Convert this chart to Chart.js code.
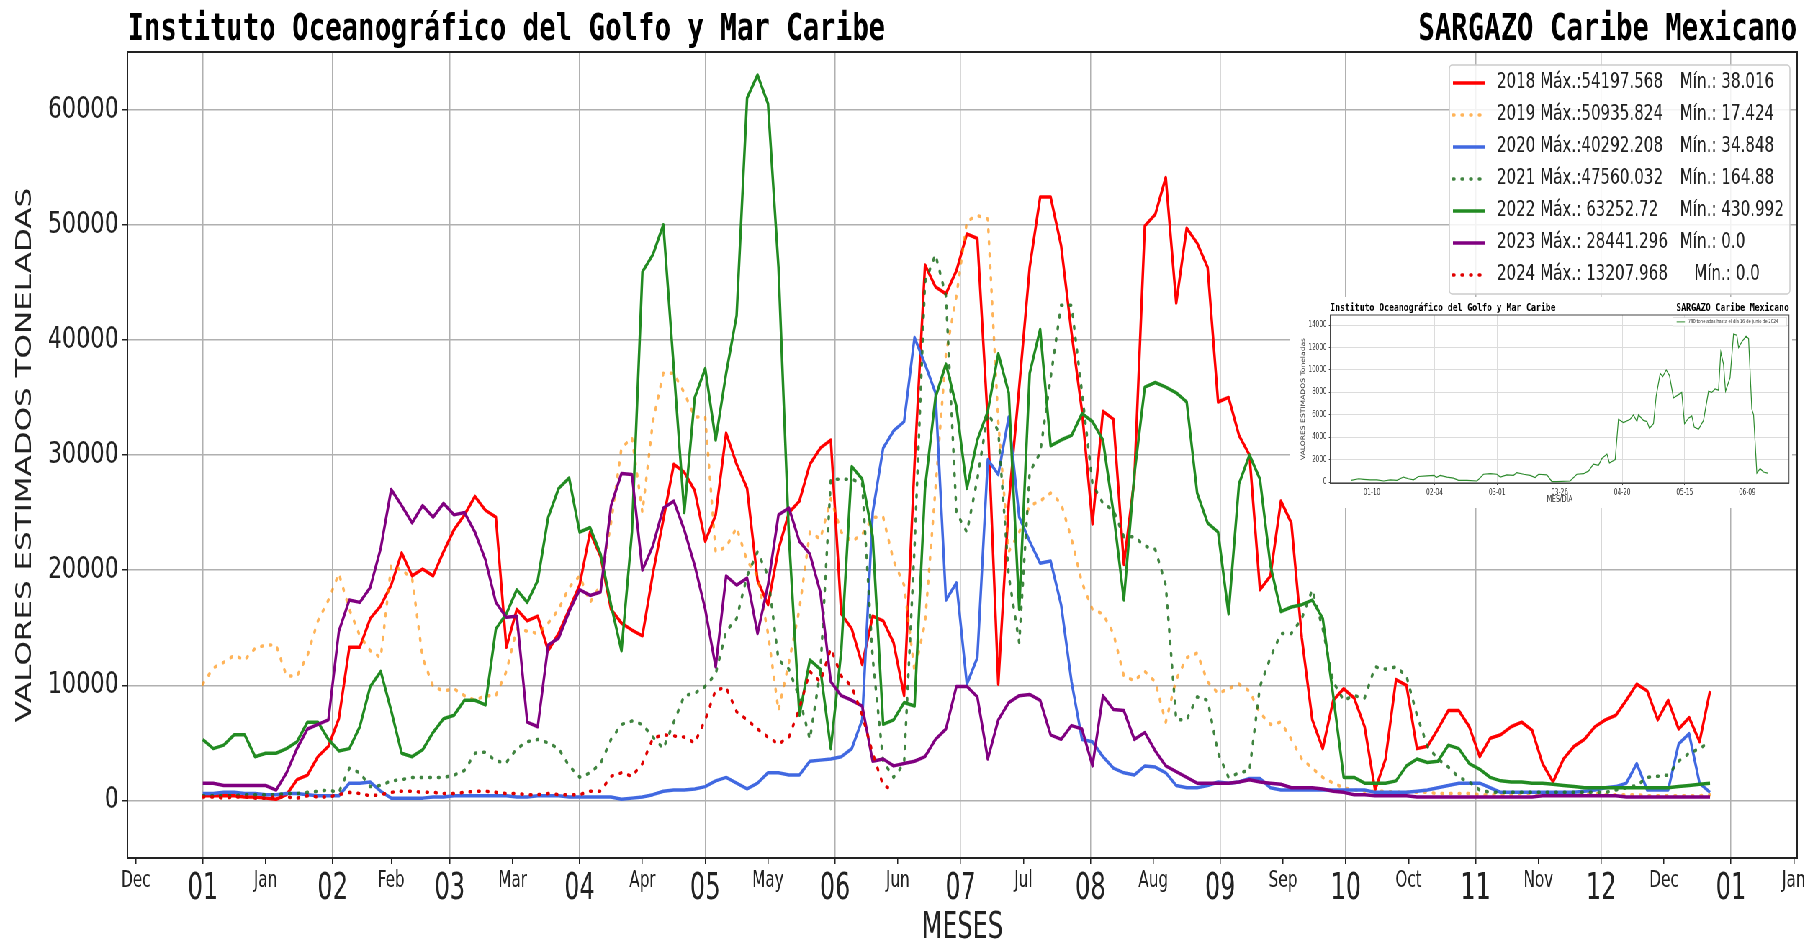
<!DOCTYPE html>
<html>
<head>
<meta charset="utf-8">
<title>SARGAZO Caribe Mexicano</title>
<script src="https://cdn.jsdelivr.net/npm/chart.js@4.4.1/dist/chart.umd.min.js"></script>
<style>
  html, body { margin: 0; padding: 0; background: #fff; overflow: hidden; width: 1813px; height: 942px; }
  /* the original picture is squeezed horizontally, so the chart is drawn wide and scaled */
  #stage { position: absolute; left: 0; top: 0; width: 2518px; height: 942px; transform: scaleX(0.72); transform-origin: 0 0; }
  #mainBox { position: absolute; left: 0; top: 0; width: 2518px; height: 942px; }
  #insetBox { position: absolute; left: 1792px; top: 297px; width: 697px; height: 211px; background: #fff; }
</style>
</head>
<body>
<div id="stage">
  <div id="mainBox"><canvas id="mainChart"></canvas></div>
  <div id="insetBox"><canvas id="insetChart"></canvas></div>
</div>
<script>
var titleLeft = "Instituto Oceanográfico del Golfo y Mar Caribe";
var titleRight = "SARGAZO Caribe Mexicano";

// day of year (0 = 1 de enero), one sample every 2.5 days
var days = [0,2.5,5,7.5,10,12.5,15,17.5,20,22.5,25,27.5,30,32.5,35,37.5,40,42.5,45,47.5,
  50,52.5,55,57.5,60,62.5,65,67.5,70,72.5,75,77.5,80,82.5,85,87.5,90,92.5,95,97.5,
  100,102.5,105,107.5,110,112.5,115,117.5,120,122.5,125,127.5,130,132.5,135,137.5,140,142.5,145,147.5,
  150,152.5,155,157.5,160,162.5,165,167.5,170,172.5,175,177.5,180,182.5,185,187.5,190,192.5,195,197.5,
  200,202.5,205,207.5,210,212.5,215,217.5,220,222.5,225,227.5,230,232.5,235,237.5,240,242.5,245,247.5,
  250,252.5,255,257.5,260,262.5,265,267.5,270,272.5,275,277.5,280,282.5,285,287.5,290,292.5,295,297.5,
  300,302.5,305,307.5,310,312.5,315,317.5,320,322.5,325,327.5,330,332.5,335,337.5,340,342.5,345,347.5,
  350,352.5,355,357.5,360];

var sargazo2018 = [400,400,400,400,300,300,200,100,500,1800,2200,3800,4700,7100,13300,13300,15800,16900,18700,21500,19500,20100,19500,21600,23500,24800,26400,25200,24600,13300,16600,15600,16000,13000,14500,16600,18700,
  23300,21200,16600,15400,14800,14300,19700,24400,29200,28500,26900,22500,24800,31900,29200,27100,19100,17000,21800,25000,26000,29200,30600,31300,
  16200,14900,11800,16000,15600,13700,9100,29200,46500,44600,44000,46000,49200,48800,32900,10100,25800,35900,46300,52400,52400,48200,40600,33800,
  24000,33800,33100,20500,27900,49900,50900,54100,43200,49700,48400,46300,34600,35000,31700,30000,18300,19500,26000,24100,14100,7000,4500,8700,9700,8900,
  6400,900,3600,10500,10000,4500,4700,6200,7800,7800,6400,3800,5400,5700,6400,6800,6100,3200,1600,3600,4700,5300,6400,7000,7400,8700,10100,9500,7000,8700,6200,7200,5100,9500];
var sargazo2019 = [10100,11500,12000,12600,12200,13200,13500,13500,10800,10800,12600,15600,17400,19700,16600,14300,13000,12400,20400,20000,19300,12400,9900,9500,9700,9100,8700,9100,9100,11200,14900,14700,14500,15400,16600,18500,19500,
  17200,18700,24100,30600,31500,25000,32900,37100,37100,35400,33300,33300,21600,22000,23700,20800,19500,14500,7800,12000,16600,23300,22700,26200,
  23300,22500,23100,24600,24600,20800,18700,11200,15400,27100,38800,43800,50300,50800,50500,32900,21600,23300,25600,26000,26700,25800,22700,18900,
  16600,16200,14500,10800,10400,11200,10300,6800,10500,12400,12800,10300,9300,9700,10100,9500,7600,6600,6800,5300,3600,2800,2000,1500,1100,900,
  800,800,800,700,700,700,700,600,600,600,600,500,500,500,500,600,600,500,500,500,500,600,600,500,500,500,500,400,400,400,400,400,400,500];
var sargazo2020 = [600,600,700,700,600,600,500,500,600,600,500,400,400,400,1500,1500,1600,800,200,200,200,200,300,300,400,400,400,400,400,400,300,300,400,400,400,300,300,
  300,300,300,100,200,300,500,800,900,900,1000,1200,1700,2000,1500,1000,1500,2400,2400,2200,2200,3400,3500,3600,
  3800,4500,7000,25000,30600,32100,32900,40200,37900,35400,17400,18900,10100,12400,29600,28300,33300,24600,22500,20600,20800,17000,10300,5300,
  5100,3800,2800,2400,2200,3000,2900,2400,1300,1100,1100,1300,1600,1500,1600,1900,1900,1100,900,900,900,900,900,900,900,900,
  900,700,700,700,700,800,900,1100,1300,1500,1500,1500,1100,700,700,700,700,700,700,700,700,800,900,1100,1200,1500,3200,900,900,900,4900,5800,1500,700];
var sargazo2021 = [400,400,400,400,500,500,500,500,600,600,700,800,900,700,2800,2400,1200,1300,1700,1800,2000,2000,2000,2000,2200,2600,4100,4200,3400,3300,4500,5100,5300,5000,4500,3000,2000,
  2400,3200,5300,6600,6900,6600,5500,4500,6800,9100,9300,9900,11000,14700,15800,19500,21600,19500,12200,11400,8900,5300,11200,27900,
  27900,27900,27500,12400,3400,2000,3200,22000,45000,47400,43800,25000,23300,27900,33600,32100,19500,13700,28500,30200,36700,43000,43000,35400,
  27500,25800,25200,22900,22900,22100,21800,18700,7000,7000,9000,8700,4100,2000,2400,2600,9900,12400,14500,14500,15800,18300,14900,10300,8700,9100,
  8900,11600,11400,11600,10800,7400,4700,3600,2900,2000,1600,900,700,700,700,700,700,700,700,700,700,700,700,700,900,1100,1300,2000,2100,2200,3400,4100,4500,5100];
var sargazo2022 = [5300,4500,4800,5700,5700,3800,4100,4100,4500,5100,6800,6800,5300,4300,4500,6400,9900,11200,7800,4100,3800,4400,5900,7100,7400,8700,8700,8300,14900,16200,18300,17200,19100,24600,27100,28000,23300,
  23700,21400,17000,13000,23300,45900,47400,50000,37500,25000,35000,37500,31300,37100,42100,61000,63000,60500,46300,22900,7400,12200,11400,4500,
  13000,29000,27900,22900,6600,7000,8500,8200,27100,35000,37900,34200,27100,31300,33800,38800,35400,16600,37100,40900,30800,31300,31700,33600,
  32900,31300,25000,17400,28300,35900,36300,35900,35400,34600,26700,24100,23300,16200,27500,30000,27900,20400,16400,16800,17000,17400,15800,9100,2000,2000,
  1500,1500,1500,1700,3000,3600,3300,3400,4800,4500,3200,2700,2000,1700,1600,1600,1500,1500,1400,1300,1200,1100,1100,1100,1100,1100,1100,1100,1100,1100,1200,1300,1400,1500];
var sargazo2023 = [1500,1500,1300,1300,1300,1300,1300,900,2400,4500,6200,6600,7000,14700,17400,17200,18500,21900,27000,25600,24100,25600,24600,25800,24800,25000,23300,20900,17200,15900,16000,6800,6400,13500,14100,16400,18300,
  17800,18100,25600,28400,28300,20000,22100,25400,26000,23500,20400,16600,11600,19500,18700,19300,14500,18700,24800,25400,22500,21400,18100,10300,
  9100,8700,8200,3400,3600,3000,3200,3400,3800,5300,6200,9900,9900,9000,3600,7000,8500,9100,9200,8700,5700,5300,6500,6200,
  3000,9100,7900,7800,5300,5900,4300,3000,2500,2000,1500,1500,1500,1500,1600,1800,1600,1500,1400,1100,1100,1100,1000,800,700,500,
  500,400,400,400,400,300,300,300,300,300,300,300,300,300,300,300,300,400,400,400,400,400,400,400,400,300,300,300,300,300,300,300,300,300];
var sargazo2024 = [300,300,200,300,300,200,200,300,300,200,400,300,300,500,700,600,400,500,700,800,800,700,700,600,600,700,800,800,700,600,600,500,500,600,500,500,500,
  800,800,2100,2400,2100,3200,5400,5700,5600,5500,5000,7000,9600,9800,7700,7000,6200,5500,4900,5500,8000,11200,10300,13200,
  10800,9900,7400,4100,1300,900];

var years = ['2018', '2019', '2020', '2021', '2022', '2023', '2024'];
var legendMax = ['2018 Máx.:54197.568', '2019 Máx.:50935.824', '2020 Máx.:40292.208', '2021 Máx.:47560.032',
  '2022 Máx.: 63252.72', '2023 Máx.: 28441.296', '2024 Máx.: 13207.968'];
var legendMin = ['Mín.: 38.016', 'Mín.: 17.424', 'Mín.: 34.848', 'Mín.: 164.88', 'Mín.: 430.992', 'Mín.: 0.0', '   Mín.: 0.0'];

var monthStartDays = [0, 31, 59, 90, 120, 151, 181, 212, 243, 273, 304, 334, 365];
var monthStartLabels = ['01', '02', '03', '04', '05', '06', '07', '08', '09', '10', '11', '12', '01'];
var midMonthDays = [-16, 15, 45, 74, 105, 135, 166, 196, 227, 258, 288, 319, 349, 380];
var midMonthLabels = ['Dec', 'Jan', 'Feb', 'Mar', 'Apr', 'May', 'Jun', 'Jul', 'Aug', 'Sep', 'Oct', 'Nov', 'Dec', 'Jan'];
var yTickValues = [0, 10000, 20000, 30000, 40000, 50000, 60000];

// inset: 2024 season (day of year, toneladas)
var insetDays = [0.7,3.7,5.7,8.3,11,13.7,16.3,19,21.6,23.6,25.6,27.6,31,33.9,34.7,36.3,39,41.6,43.6,47,51,53.6,56.3,58.9,60.3,62.9,65.6,66.9,69.6,72.2,74.2,75.6,78.9,80.9,82.9,88.2,90.9,93.6,95.6,97.5,99.5,100.9,102.9,103.9,106.2,107.5,109.5,112.2,113.5,114.9,115.5,117.5,118.9,119.9,121.5,122.6,124.2,125.2,126.6,127.9,129.5,131.5,132.8,133.9,135.5,136.8,137.8,139.5,141.5,143.5,144.8,146.1,147.5,148.4,149.5,150.3,152.1,153.5,154.8,155.5,156.8,158.5,159.5,160.8,161.5,162.8,164.1,165.5,167.1];
var insetValues = [150,300,250,200,200,100,200,150,450,300,200,500,550,600,400,600,450,350,150,150,100,700,750,700,450,650,600,850,700,600,400,700,650,50,50,100,700,750,1000,1600,1500,2100,2500,1700,2000,5600,5300,5600,6000,5400,6000,5500,5400,4800,5200,7700,9700,9400,10000,9500,7500,7800,8000,5200,5700,5900,4900,4700,5500,8100,8000,8300,8200,11600,10500,8100,9300,13200,13100,12000,12500,13000,12800,6500,6000,800,1200,900,800];
var insetTickDays = [9, 34, 59, 84, 109, 134, 159];
var insetTickLabels = ['01-10', '02-04', '03-01', '03-26', '04-20', '05-15', '06-09'];
var insetYTicks = [0, 2000, 4000, 6000, 8000, 10000, 12000, 14000];
var insetLegend = '780 toneladas hasta el día 16 de junio de 2024';

var seriesValues = [sargazo2018, sargazo2019, sargazo2020, sargazo2021, sargazo2022, sargazo2023, sargazo2024];
var seriesColors = ['#ff0000', 'rgba(255,140,0,0.65)', '#4169e1', 'rgba(30,110,30,0.85)', '#228b22', '#800080', '#e00000'];
var seriesDotted = [false, true, false, true, false, false, true];
var dotDash = [2, 10];

var tickFamily = "'Liberation Sans Narrow', 'DejaVu Sans Condensed', 'DejaVu Sans', sans-serif";

function toPoints(xs, values) {
  var pts = [];
  for (var i = 0; i < values.length; i++) pts.push({ x: xs[i], y: values[i] });
  return pts;
}

var datasets = years.map(function(year, i) {
  return {
    label: year,
    data: toPoints(days, seriesValues[i]),
    borderColor: seriesColors[i],
    borderWidth: 3.5,
    borderDash: seriesDotted[i] ? dotDash : [],
    borderCapStyle: seriesDotted[i] ? 'round' : 'butt',
    borderJoinStyle: 'round',
    pointRadius: 0,
    tension: 0,
    order: years.length - i // later years drawn on top
  };
});

var xLabelMap = {};
monthStartDays.forEach(function(d, i) { xLabelMap[d] = monthStartLabels[i]; });
midMonthDays.forEach(function(d, i) { xLabelMap[d] = midMonthLabels[i]; });

var mainDecor = {
  id: 'mainDecor',
  afterDraw: function(chart) {
    var ctx = chart.ctx, a = chart.chartArea;
    ctx.save();
    ctx.strokeStyle = '#222';
    ctx.lineWidth = 2;
    ctx.strokeRect(a.left, a.top, a.right - a.left, a.bottom - a.top);

    ctx.fillStyle = '#000';
    ctx.font = "bold 38px 'DejaVu Sans Mono', monospace";
    ctx.textBaseline = 'alphabetic';
    ctx.textAlign = 'left';
    ctx.fillText(titleLeft, a.left, 40);
    ctx.textAlign = 'right';
    ctx.fillText(titleRight, a.right, 40);

    // legend box, top right inside the plot
    var lx = a.right - 483, ly = a.top + 13, lw = 473, lh = 229;
    ctx.fillStyle = 'rgba(255,255,255,0.85)';
    ctx.strokeStyle = '#cccccc';
    ctx.lineWidth = 1.5;
    ctx.beginPath();
    if (ctx.roundRect) ctx.roundRect(lx, ly, lw, lh, 4); else ctx.rect(lx, ly, lw, lh);
    ctx.fill();
    ctx.stroke();
    ctx.font = "21px 'DejaVu Sans', sans-serif";
    ctx.textBaseline = 'middle';
    ctx.textAlign = 'left';
    for (var i = 0; i < years.length; i++) {
      var y = ly + 18 + i * 32;
      ctx.strokeStyle = seriesColors[i];
      ctx.lineWidth = 3.5;
      ctx.setLineDash(seriesDotted[i] ? dotDash : []);
      ctx.lineCap = seriesDotted[i] ? 'round' : 'butt';
      ctx.beginPath();
      ctx.moveTo(lx + 5, y);
      ctx.lineTo(lx + 50, y);
      ctx.stroke();
      ctx.setLineDash([]);
      ctx.fillStyle = '#222';
      ctx.fillText(legendMax[i], lx + 66, y);
      ctx.fillText(legendMin[i], lx + 320, y);
    }
    ctx.restore();
  }
};

new Chart(document.getElementById('mainChart'), {
  type: 'line',
  data: { datasets: datasets },
  options: {
    responsive: true,
    maintainAspectRatio: false,
    animation: false,
    layout: { padding: { left: 0, top: 52, right: 22, bottom: 0 } },
    plugins: { legend: { display: false }, tooltip: { enabled: false } },
    scales: {
      x: {
        type: 'linear',
        min: -18,
        max: 380.8,
        afterBuildTicks: function(scale) {
          var t = monthStartDays.map(function(d) { return { value: d, major: true }; })
            .concat(midMonthDays.map(function(d) { return { value: d, major: false }; }));
          t.sort(function(p, q) { return p.value - q.value; });
          scale.ticks = t;
        },
        afterFit: function(scale) { scale.height = 84; },
        ticks: {
          autoSkip: false,
          maxRotation: 0,
          minRotation: 0,
          padding: 3,
          color: '#222',
          font: function(c) {
            return (c.tick && c.tick.major) ? { family: tickFamily, size: 37 } : { family: tickFamily, size: 23.5 };
          },
          callback: function(value) { return xLabelMap[value]; }
        },
        grid: {
          color: function(c) { return (c.tick && c.tick.major) ? '#b0b0b0' : 'rgba(0,0,0,0)'; },
          lineWidth: 1.5,
          tickColor: '#222',
          tickLength: 6
        },
        border: { color: '#222', width: 2 },
        title: {
          display: true,
          text: 'MESES',
          color: '#222',
          font: { family: tickFamily, size: 37, lineHeight: 1 },
          padding: { top: 0, bottom: -5 }
        }
      },
      y: {
        min: -5000,
        max: 65000,
        afterBuildTicks: function(scale) {
          scale.ticks = yTickValues.map(function(v) { return { value: v }; });
        },
        afterFit: function(scale) { scale.width = 177; },
        ticks: {
          color: '#222',
          padding: 5,
          font: { family: "'DejaVu Sans', sans-serif", size: 31 },
          callback: function(value) { return String(value); }
        },
        grid: { color: '#b0b0b0', lineWidth: 1.5, tickColor: '#222', tickLength: 7 },
        border: { color: '#222', width: 2 },
        title: {
          display: true,
          text: 'VALORES ESTIMADOS TONELADAS',
          color: '#222',
          font: { family: "'DejaVu Sans', sans-serif", size: 31, lineHeight: 1.2 },
          padding: { top: 16, bottom: 0 }
        }
      }
    }
  },
  plugins: [mainDecor]
});

// ---- inset (2024) ----
var insetDecor = {
  id: 'insetDecor',
  afterDraw: function(chart) {
    var ctx = chart.ctx, a = chart.chartArea;
    ctx.save();
    ctx.strokeStyle = '#444';
    ctx.lineWidth = 1;
    ctx.strokeRect(a.left, a.top, a.right - a.left, a.bottom - a.top);
    ctx.fillStyle = '#000';
    ctx.font = "bold 11.3px 'DejaVu Sans Mono', monospace";
    ctx.textBaseline = 'alphabetic';
    ctx.textAlign = 'left';
    ctx.fillText(titleLeft, a.left, 14);
    ctx.textAlign = 'right';
    ctx.fillText(titleRight, a.right, 14);

    var bx = a.right - 161, by = a.top + 2.7;
    ctx.fillStyle = '#fff';
    ctx.strokeStyle = '#d0d0d0';
    ctx.lineWidth = 0.6;
    ctx.fillRect(bx, by, 158, 8.3);
    ctx.strokeRect(bx, by, 158, 8.3);
    ctx.strokeStyle = '#2e8b2e';
    ctx.lineWidth = 1;
    ctx.beginPath();
    ctx.moveTo(bx + 5, by + 4.2);
    ctx.lineTo(bx + 16.5, by + 4.2);
    ctx.stroke();
    ctx.fillStyle = '#333';
    ctx.font = "5.3px 'DejaVu Sans', sans-serif";
    ctx.textAlign = 'left';
    ctx.textBaseline = 'middle';
    ctx.fillText(insetLegend, bx + 21, by + 4.3);
    ctx.restore();
  }
};

new Chart(document.getElementById('insetChart'), {
  type: 'line',
  data: {
    datasets: [{
      label: insetLegend,
      data: toPoints(insetDays, insetValues),
      borderColor: '#2e8b2e',
      borderWidth: 1.2,
      pointRadius: 0,
      tension: 0
    }]
  },
  options: {
    responsive: true,
    maintainAspectRatio: false,
    animation: false,
    layout: { padding: { left: 0, top: 18, right: 4.3, bottom: 0 } },
    plugins: { legend: { display: false }, tooltip: { enabled: false } },
    scales: {
      x: {
        type: 'linear',
        min: -7.65,
        max: 175.65,
        afterBuildTicks: function(scale) {
          scale.ticks = insetTickDays.map(function(d) { return { value: d }; });
        },
        afterFit: function(scale) { scale.height = 25; },
        ticks: {
          autoSkip: false,
          maxRotation: 0,
          padding: 3,
          color: '#333',
          font: { family: "'DejaVu Sans', sans-serif", size: 8 },
          callback: function(value) { return insetTickLabels[insetTickDays.indexOf(value)]; }
        },
        grid: { color: '#dcdcdc', lineWidth: 1, tickColor: '#444', tickLength: 2 },
        border: { color: '#444', width: 1 },
        title: {
          display: true,
          text: 'MES/DÍA',
          color: '#333',
          font: { family: "'DejaVu Sans', sans-serif", size: 8.5, lineHeight: 1.2 },
          padding: { top: 0, bottom: 3 }
        }
      },
      y: {
        min: -80,
        max: 14900,
        afterBuildTicks: function(scale) {
          scale.ticks = insetYTicks.map(function(v) { return { value: v }; });
        },
        afterFit: function(scale) { scale.width = 55.6; },
        ticks: {
          padding: 3,
          color: '#333',
          font: { family: "'DejaVu Sans', sans-serif", size: 8 },
          callback: function(value) { return String(value); }
        },
        grid: { color: '#dcdcdc', lineWidth: 1, tickColor: '#444', tickLength: 2 },
        border: { color: '#444', width: 1 },
        title: {
          display: true,
          text: 'VALORES ESTIMADOS Toneladas',
          color: '#333',
          font: { family: "'DejaVu Sans', sans-serif", size: 7.6, lineHeight: 1.2 },
          padding: { top: 13.6, bottom: 0 }
        }
      }
    }
  },
  plugins: [insetDecor]
});
</script>
</body>
</html>
